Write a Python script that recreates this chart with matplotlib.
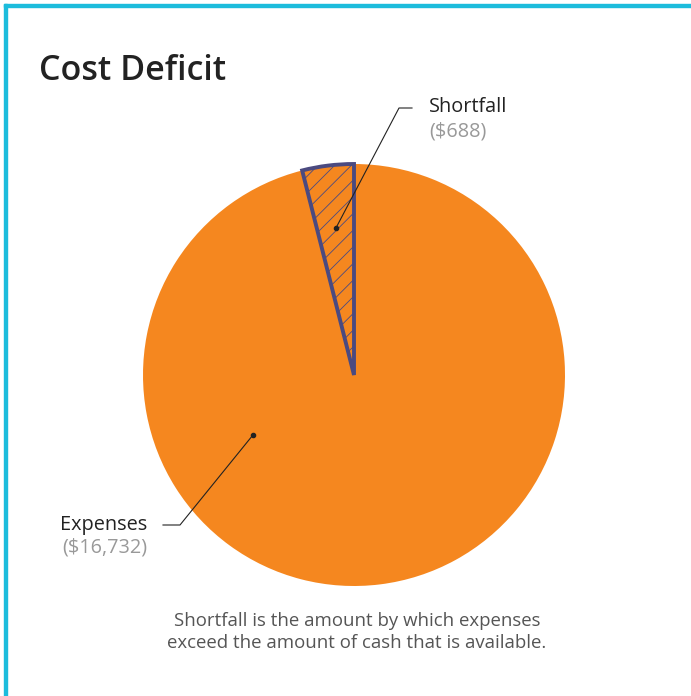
import matplotlib.pyplot as plt
from matplotlib.patches import Rectangle
import numpy as np

plt.rcParams['font.family'] = ['Open Sans', 'DejaVu Sans']
plt.rcParams['hatch.linewidth'] = 0.6

labels = ["Shortfall", "Expenses"]
values = [688, 16732]
value_text = ["($688)", "($16,732)"]

orange = "#F5871F"
purple = "#4B4A80"

fig = plt.figure(figsize=(6.91, 6.96), dpi=100)
W, H = 691, 696

# cyan frame on the top and left
fig.patches.append(Rectangle((4 / W, 0), 3 / W, 1 - 4 / H, transform=fig.transFigure,
                             color="#1CBCDC", zorder=5))
fig.patches.append(Rectangle((4 / W, 1 - 7 / H), 1, 3 / H, transform=fig.transFigure,
                             color="#1CBCDC", zorder=5))

cx, cy, r = 354, 375, 211
ax = fig.add_axes([(cx - r) / W, (H - cy - r) / H, 2 * r / W, 2 * r / H])

wedges, _ = ax.pie(values, startangle=90, counterclock=True, radius=1,
                   colors=[orange, orange], wedgeprops=dict(linewidth=0))
wedges[0].set_hatch("//")
wedges[0].set_edgecolor(purple)
wedges[0].set_linewidth(2.8)
wedges[0].set_joinstyle("miter")
wedges[0].set_zorder(3)
ax.set_xlim(-1, 1)
ax.set_ylim(-1, 1)
ax.set_aspect("equal")
ax.axis("off")

fig.text(39 / W, 1 - 71 / H, "Cost Deficit", fontsize=24.5, fontweight="semibold",
         color="#222222", va="center", ha="left")

# shortfall callout
a0 = np.deg2rad(90 + 360 * values[0] / sum(values) / 2)
dot = (0.70 * np.cos(a0), 0.70 * np.sin(a0))
ax.plot(*dot, "o", color="#222222", ms=3, zorder=6)
elbow = ((399 - cx) / r, (cy - 108) / r)
end = ((412 - cx) / r, (cy - 108) / r)
ax.plot([dot[0], elbow[0], end[0]], [dot[1], elbow[1], end[1]], color="#222222",
        lw=0.8, clip_on=False, zorder=6)
fig.text(429 / W, 1 - 107 / H, labels[0], fontsize=14.3, color="#222222", va="center")
fig.text(429 / W, 1 - 131 / H, value_text[0], fontsize=14.3, color="#999999", va="center")

# expenses callout
a1 = np.deg2rad(210.7)
dot = (0.557 * np.cos(a1), 0.557 * np.sin(a1))
ax.plot(*dot, "o", color="#222222", ms=3, zorder=6)
elbow = ((180 - cx) / r, (cy - 525) / r)
end = ((163 - cx) / r, (cy - 525) / r)
ax.plot([dot[0], elbow[0], end[0]], [dot[1], elbow[1], end[1]], color="#222222",
        lw=0.8, clip_on=False, zorder=6)
fig.text(147 / W, 1 - 525 / H, labels[1], fontsize=14.3, color="#222222", va="center", ha="right")
fig.text(147 / W, 1 - 548 / H, value_text[1], fontsize=14.3, color="#999999", va="center", ha="right")

fig.text(357 / W, 1 - 632 / H,
         "Shortfall is the amount by which expenses\nexceed the amount of cash that is available.",
         fontsize=13.4, color="#555555", ha="center", va="center", linespacing=1.32)

fig.savefig("out.png", dpi=100)
